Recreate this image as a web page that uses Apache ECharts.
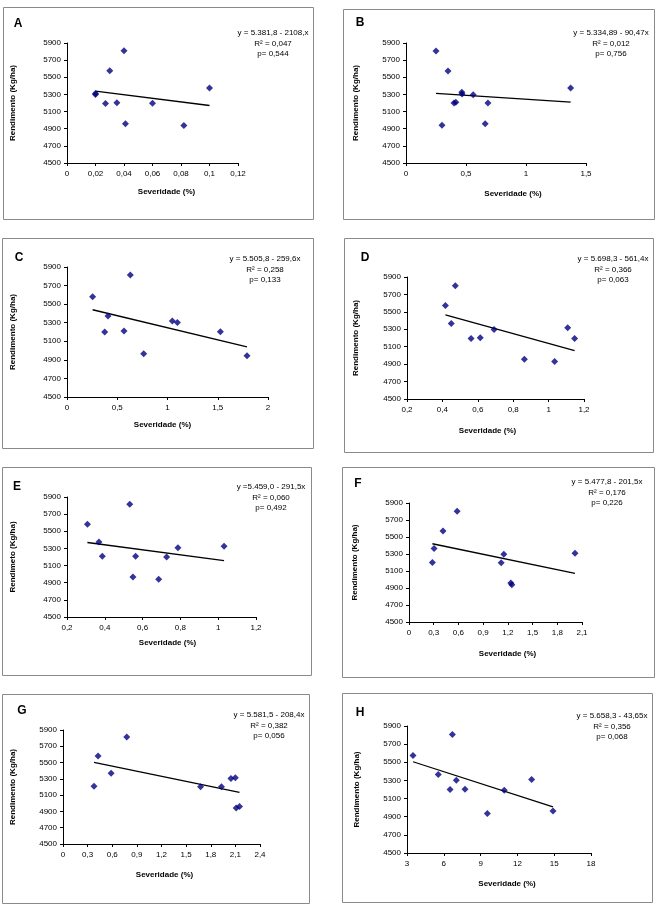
<!DOCTYPE html>
<html>
<head>
<meta charset="utf-8">
<script src="https://cdn.jsdelivr.net/npm/echarts@6/dist/echarts.min.js"></script>
<style>
html,body{margin:0;padding:0;background:#fff;}
#chart{width:656px;height:907px;}
</style>
</head>
<body>
<div id="chart"></div>
<script>
// ---- data ----
const panelLetters = ['A', 'B', 'C', 'D', 'E', 'F', 'G', 'H'];

const sevA = [0.02, 0.02, 0.027, 0.03, 0.035, 0.04, 0.041, 0.06, 0.082, 0.1];
const rendA = [5310, 5298, 5195, 5577, 5203, 5810, 4958, 5196, 4937, 5375];

const sevB = [0.25, 0.30, 0.35, 0.40, 0.415, 0.465, 0.467, 0.56, 0.66, 0.683, 1.372];
const rendB = [5807, 4939, 5573, 5200, 5208, 5325, 5305, 5297, 4959, 5200, 5375];

const sevC = [0.255, 0.375, 0.408, 0.567, 0.63, 0.763, 1.048, 1.098, 1.526, 1.791];
const rendC = [5579, 5200, 5373, 5211, 5814, 4966, 5319, 5301, 5204, 4944];

const sevD = [0.417, 0.45, 0.473, 0.562, 0.614, 0.692, 0.863, 1.034, 1.108, 1.147];
const rendD = [5574, 5367, 5800, 5195, 5202, 5298, 4956, 4930, 5317, 5195];

const sevE = [0.308, 0.369, 0.387, 0.532, 0.549, 0.563, 0.685, 0.727, 0.787, 1.031];
const rendE = [5581, 5375, 5208, 5815, 4967, 5208, 4939, 5200, 5309, 5325];

const sevF = [0.284, 0.304, 0.413, 0.584, 1.119, 1.151, 1.236, 1.248, 2.015];
const rendF = [5200, 5365, 5572, 5803, 5197, 5298, 4958, 4938, 5310];

const sevG = [0.378, 0.427, 0.586, 0.777, 1.676, 1.93, 2.046, 2.099, 2.11, 2.15];
const rendG = [5210, 5580, 5370, 5814, 5202, 5202, 5305, 5313, 4943, 4960];

const sevH = [3.49, 5.55, 6.51, 6.70, 7.02, 7.73, 9.55, 10.93, 13.16, 14.90];
const rendH = [5574, 5365, 5200, 5805, 5302, 5204, 4936, 5193, 5310, 4962];

// regression equations printed on each panel
const trendIntercept = [5381.8, 5334.89, 5505.8, 5698.3, 5459.0, 5477.8, 5581.5, 5658.3];
const trendSlope = [-2108, -90.47, -259.6, -561.4, -291.5, -201.5, -208.4, -43.65];
const eqLabels = ['y = 5.381,8 - 2108,x', 'y = 5.334,89 - 90,47x', 'y = 5.505,8 - 259,6x', 'y = 5.698,3 - 561,4x',
                  'y =5.459,0 - 291,5x', 'y = 5.477,8 - 201,5x', 'y = 5.581,5 - 208,4x', 'y = 5.658,3 - 43,65x'];
const r2Labels = ['R² = 0,047', 'R² = 0,012', 'R² = 0,258', 'R² = 0,366', 'R² = 0,060', 'R² = 0,176', 'R² = 0,382', 'R² = 0,356'];
const pLabels = ['p= 0,544', 'p= 0,756', 'p= 0,133', 'p= 0,063', 'p= 0,492', 'p= 0,226', 'p= 0,056', 'p= 0,068'];

// axis ranges / tick steps
const xMin = [0, 0, 0, 0.2, 0.2, 0, 0, 3];
const xMax = [0.12, 1.5, 2, 1.2, 1.2, 2.1, 2.4, 18];
const xStep = [0.02, 0.5, 0.5, 0.2, 0.2, 0.3, 0.3, 3];
const yMin = 4500, yMax = 5900, yStep = 200;
const yTitles = ['Rendimento (Kg/ha)', 'Rendimento (Kg/ha)', 'Rendimento (Kg/ha)', 'Rendimento (Kg/ha)',
                 'Rendimeto (Kg/ha)', 'Rendimento (Kg/ha)', 'Rendimento (Kg/ha)', 'Rendimento (Kg/ha)'];
const xTitle = 'Severidade (%)';

// ---- layout (pixels) ----
const sevs = [sevA, sevB, sevC, sevD, sevE, sevF, sevG, sevH];
const rends = [rendA, rendB, rendC, rendD, rendE, rendF, rendG, rendH];
const gridPos = [
  {left: 67, top: 43, width: 171, height: 120},
  {left: 406, top: 43, width: 180, height: 120},
  {left: 67, top: 267, width: 201, height: 130},
  {left: 407, top: 277, width: 177, height: 122},
  {left: 67, top: 497, width: 189, height: 120},
  {left: 409, top: 503, width: 173, height: 119},
  {left: 63, top: 730, width: 197, height: 114},
  {left: 407, top: 726, width: 184, height: 127}
];
const boxes = [
  [3, 7, 310, 212], [343, 9, 311, 210],
  [2, 238, 311, 210], [344, 238, 309, 214],
  [2, 467, 309, 208], [342, 467, 312, 210],
  [2, 694, 307, 209], [342, 693, 310, 209]
];
const letterPos = [[18, 24], [360, 23], [19, 258], [365, 258], [17, 487], [358, 484], [22, 711], [360, 713]];
const eqPos = [[273, 28], [611, 28], [265, 254], [613, 254], [271, 482], [607, 477], [269, 710], [612, 711]];
const yNameGap = [50, 46, 50, 47, 50, 50, 46, 46];
const xNameGap = [25, 27, 24, 28, 22, 28, 27, 27];
const xNameShift = [14, 17, -5, -8, 6, 12, 3, 8];

const FONT = 'Liberation Sans, Arial, sans-serif';
const fmtX = v => String(Math.round(v * 1e6) / 1e6).replace('.', ',');
const fmtY = v => String(Math.round(v));

const grids = [], xAxes = [], yAxes = [], series = [], graphics = [];
for (let i = 0; i < 8; i++) {
  grids.push(Object.assign({containLabel: false}, gridPos[i]));
  const sh = xNameShift[i];
  xAxes.push({
    type: 'value', gridIndex: i, min: xMin[i], max: xMax[i], interval: xStep[i],
    name: xTitle, nameLocation: 'middle', nameGap: xNameGap[i],
    nameTextStyle: {fontFamily: FONT, fontSize: 8, fontWeight: 'bold', color: '#000',
      padding: sh >= 0 ? [0, 0, 0, 2 * sh] : [0, -2 * sh, 0, 0]},
    axisLine: {show: true, onZero: false, lineStyle: {color: '#000', width: 1}},
    axisTick: {show: true, inside: false, length: 3, lineStyle: {color: '#000'}},
    axisLabel: {fontFamily: FONT, fontSize: 8, color: '#000', margin: 7, formatter: fmtX, showMinLabel: true, showMaxLabel: true},
    splitLine: {show: false}
  });
  yAxes.push({
    type: 'value', gridIndex: i, min: yMin, max: yMax, interval: yStep,
    name: yTitles[i], nameLocation: 'middle', nameGap: yNameGap[i], nameRotate: 90,
    nameTextStyle: {fontFamily: FONT, fontSize: 8, fontWeight: 'bold', color: '#000'},
    axisLine: {show: true, onZero: false, lineStyle: {color: '#000', width: 1}},
    axisTick: {show: true, inside: false, length: 3, lineStyle: {color: '#000'}},
    axisLabel: {fontFamily: FONT, fontSize: 8, color: '#000', margin: 6, formatter: fmtY},
    splitLine: {show: false}
  });
  const pts = sevs[i].map((x, k) => [x, rends[i][k]]);
  series.push({
    type: 'scatter', xAxisIndex: i, yAxisIndex: i, data: pts,
    symbol: 'diamond', symbolSize: [7, 7],
    itemStyle: {color: '#000080'}, z: 3, silent: true
  });
  const x0 = Math.min.apply(null, sevs[i]), x1 = Math.max.apply(null, sevs[i]);
  series.push({
    type: 'line', xAxisIndex: i, yAxisIndex: i,
    data: [[x0, trendIntercept[i] + trendSlope[i] * x0], [x1, trendIntercept[i] + trendSlope[i] * x1]],
    symbol: 'none', lineStyle: {color: '#000', width: 1.3}, z: 2, silent: true
  });
  const b = boxes[i];
  graphics.push({type: 'rect', shape: {x: b[0] + 0.5, y: b[1] + 0.5, width: b[2], height: b[3]},
    style: {fill: 'none', stroke: '#8a8a8a', lineWidth: 1}, silent: true});
  graphics.push({type: 'text', x: letterPos[i][0], y: letterPos[i][1],
    style: {text: panelLetters[i], font: 'bold 12px ' + FONT, fill: '#000', textAlign: 'center', textVerticalAlign: 'middle'}});
  graphics.push({type: 'text', x: eqPos[i][0], y: eqPos[i][1],
    style: {text: eqLabels[i] + '\n' + r2Labels[i] + '\n' + pLabels[i], font: '8px ' + FONT, fill: '#000',
      textAlign: 'center', textVerticalAlign: 'top', lineHeight: 10.5}});
}

const chart = echarts.init(document.getElementById('chart'), null, {renderer: 'canvas'});
chart.setOption({
  animation: false,
  backgroundColor: '#fff',
  grid: grids, xAxis: xAxes, yAxis: yAxes, series: series, graphic: graphics
});
</script>
</body>
</html>
